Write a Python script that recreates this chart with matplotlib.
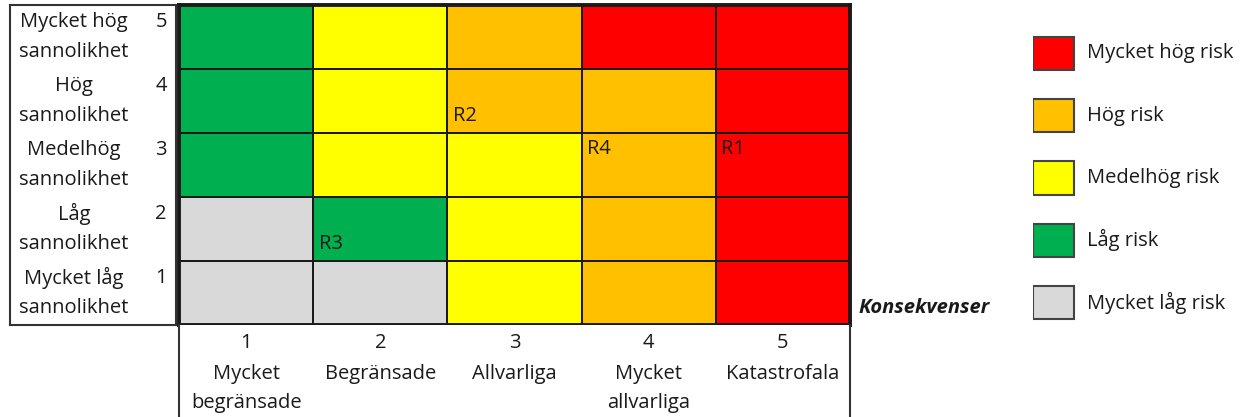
import matplotlib.pyplot as plt
import numpy as np
from matplotlib.colors import ListedColormap, BoundaryNorm

plt.rcParams['font.family'] = ['Open Sans', 'DejaVu Sans']

# risknivåer: 0 = mycket låg ... 4 = mycket hög
level_names = ['Mycket låg risk', 'Låg risk', 'Medelhög risk', 'Hög risk', 'Mycket hög risk']
level_colors = ['#D9D9D9', '#00B050', '#FFFF00', '#FFC000', '#FF0000']

# rader = sannolikhet 1..5 (nerifrån), kolumner = konsekvens 1..5
risk_matrix = [
    [0, 0, 2, 3, 4],
    [0, 1, 2, 3, 4],
    [1, 2, 2, 3, 4],
    [1, 2, 3, 3, 4],
    [1, 2, 3, 4, 4],
]

prob_labels = [('Mycket låg', 'sannolikhet'), ('Låg', 'sannolikhet'), ('Medelhög', 'sannolikhet'),
               ('Hög', 'sannolikhet'), ('Mycket hög', 'sannolikhet')]
cons_labels = [('Mycket', 'begränsade'), ('Begränsade', ''), ('Allvarliga', ''),
               ('Mycket', 'allvarliga'), ('Katastrofala', '')]

# risker: namn, konsekvens, sannolikhet, placering i rutan
risk_names = ['R1', 'R2', 'R3', 'R4']
risk_cons = [5, 3, 2, 4]
risk_prob = [3, 4, 2, 3]
risk_place = ['top', 'bottom', 'bottom', 'top']

W, H = 1243, 417
fig = plt.figure(figsize=(W / 100, H / 100), dpi=100)
fs = 14.5
tc = '#1a1a1a'

# huvudmatrisen
ax = fig.add_axes([179 / W, (H - 325) / H, 671 / W, 320 / H])
cmap = ListedColormap(level_colors)
norm = BoundaryNorm(np.arange(-0.5, 5.5, 1), cmap.N)
edges = np.arange(0.5, 6.5, 1)
ax.pcolormesh(edges, edges, np.array(risk_matrix), cmap=cmap, norm=norm,
              edgecolors='#1a1a1a', linewidth=1.3)
ax.set_xlim(0.5, 5.5)
ax.set_ylim(0.5, 5.5)
ax.set_xticks([])
ax.set_yticks([])
for s in ax.spines.values():
    s.set_linewidth(2.8)
    s.set_color('#1a1a1a')

for name, c, p, place in zip(risk_names, risk_cons, risk_prob, risk_place):
    y = p + 0.25 if place == 'top' else p - 0.24
    ax.text(c - 0.46, y, name, ha='left', va='center', fontsize=fs, color=tc)

# vänster etikettruta
axl = fig.add_axes([10 / W, (H - 325) / H, 166 / W, 320 / H])
axl.set_xlim(0, 166)
axl.set_ylim(0.5, 5.5)
axl.set_xticks([])
axl.set_yticks([])
for s in axl.spines.values():
    s.set_linewidth(1.5)
    s.set_color('#333333')
for i, (l1, l2) in enumerate(prob_labels):
    p = i + 1
    axl.text(64, p + 0.24, l1, ha='center', va='center', fontsize=fs, color=tc)
    axl.text(64, p - 0.24, l2, ha='center', va='center', fontsize=fs, color=tc)
    axl.text(151, p + 0.24, str(p), ha='center', va='center', fontsize=fs, color=tc)

# nedre etikettruta
axb = fig.add_axes([179 / W, 0, 671 / W, (H - 325) / H])
axb.set_xlim(0.5, 5.5)
axb.set_ylim(92, 0)
axb.set_xticks([])
axb.set_yticks([])
for side in ['top', 'bottom']:
    axb.spines[side].set_visible(False)
for side in ['left', 'right']:
    axb.spines[side].set_linewidth(1.5)
    axb.spines[side].set_color('#333333')
for i, (l1, l2) in enumerate(cons_labels):
    c = i + 1
    axb.text(c, 18, str(c), ha='center', va='center', fontsize=fs, color=tc)
    axb.text(c, 49, l1, ha='center', va='center', fontsize=fs, color=tc)
    if l2:
        axb.text(c, 78, l2, ha='center', va='center', fontsize=fs, color=tc)

fig.text(858 / W, (H - 308) / H, 'Konsekvenser', ha='left', va='center',
         fontsize=fs, fontweight='bold', fontstyle='italic', color=tc)

# teckenförklaring (egen axel, nivå 4 överst)
axg = fig.add_axes([1033 / W, (H - 334) / H, 210 / W, 312 / H])
axg.set_xlim(0, 210)
axg.set_ylim(4.5, -0.5)
axg.axis('off')
order = list(range(4, -1, -1))
rows = np.arange(len(order))
axg.barh(rows, 41, left=0, height=0.53, color=[level_colors[k] for k in order],
         edgecolor='#444444', linewidth=1.5)
for r, k in zip(rows, order):
    axg.text(54, r, level_names[k], ha='left', va='center', fontsize=fs, color=tc)

fig.savefig('out.png', dpi=100)
